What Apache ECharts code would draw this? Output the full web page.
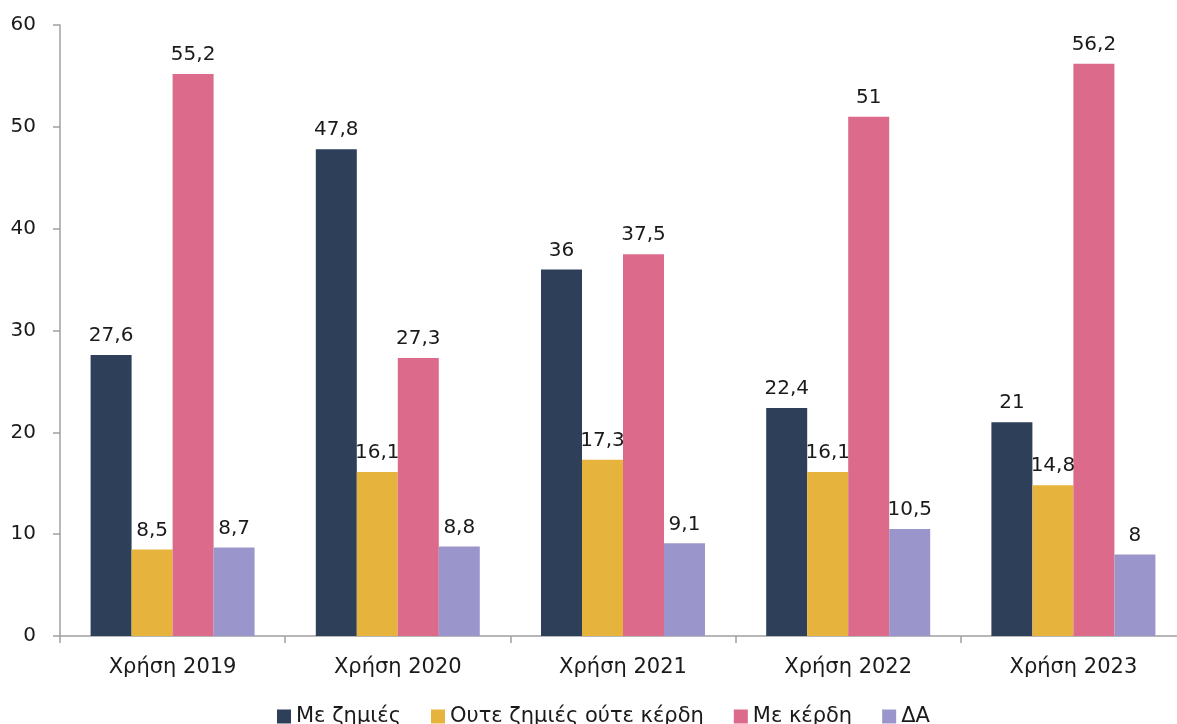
<!DOCTYPE html>
<html>
<head>
<meta charset="utf-8">
<script src="https://cdn.jsdelivr.net/npm/echarts@6/dist/echarts.min.js"></script>
<style>
  html, body { margin: 0; padding: 0; background: #fff; overflow: hidden; }
  #chart { width: 1186px; height: 724px; }
</style>
</head>
<body>
<div id="chart"></div>
<script>
// categories and series values
var categories = ["Χρήση 2019", "Χρήση 2020", "Χρήση 2021", "Χρήση 2022", "Χρήση 2023"];
var seriesNames = ["Με ζημιές", "Ουτε ζημιές ούτε κέρδη", "Με κέρδη", "ΔΑ"];
var withLosses = [27.6, 47.8, 36, 22.4, 21];
var neither = [8.5, 16.1, 17.3, 16.1, 14.8];
var withProfits = [55.2, 27.3, 37.5, 51, 56.2];
var na = [8.7, 8.8, 9.1, 10.5, 8];
var colors = ["#2e3f59", "#e6b33d", "#db6a8b", "#9a96cb"];

var font = "DejaVu Sans";
var myChart = echarts.init(document.getElementById("chart"));

function makeSeries(name, data, color) {
  return {
    name: name,
    type: "bar",
    data: data,
    barWidth: 41,
    barGap: "0%",
    itemStyle: { color: color },
    label: {
      show: true,
      position: "top",
      distance: 9,
      color: "#1a1a1a",
      fontSize: 20,
      fontFamily: font,
      formatter: function (p) {
        return String(p.value).replace(".", ",");
      }
    }
  };
}

var option = {
  animation: false,
  textStyle: { fontFamily: font },
  grid: { left: 60, right: 0, top: 25, bottom: 88 },
  legend: {
    top: 701,
    left: 272,
    itemWidth: 14,
    itemHeight: 14,
    itemGap: 30,
    itemTextGap: 6,
    icon: "rect",
    textStyle: { fontSize: 21, color: "#1a1a1a", fontFamily: font }
  },
  xAxis: {
    type: "category",
    data: categories,
    axisLine: { lineStyle: { color: "#a0a0a0", width: 1.5 } },
    axisTick: { show: true, length: 7, lineStyle: { color: "#a0a0a0", width: 1.5 } },
    axisLabel: { fontSize: 21, color: "#1a1a1a", margin: 21, fontFamily: font }
  },
  yAxis: {
    type: "value",
    min: 0,
    max: 60,
    interval: 10,
    splitLine: { show: false },
    axisLine: { show: true, lineStyle: { color: "#a0a0a0", width: 1.5 } },
    axisTick: { show: true, length: 7, lineStyle: { color: "#a0a0a0", width: 1.5 } },
    axisLabel: { fontSize: 20, color: "#1a1a1a", margin: 24, fontFamily: font }
  },
  series: [
    makeSeries(seriesNames[0], withLosses, colors[0]),
    makeSeries(seriesNames[1], neither, colors[1]),
    makeSeries(seriesNames[2], withProfits, colors[2]),
    makeSeries(seriesNames[3], na, colors[3])
  ]
};

myChart.setOption(option);
</script>
</body>
</html>
